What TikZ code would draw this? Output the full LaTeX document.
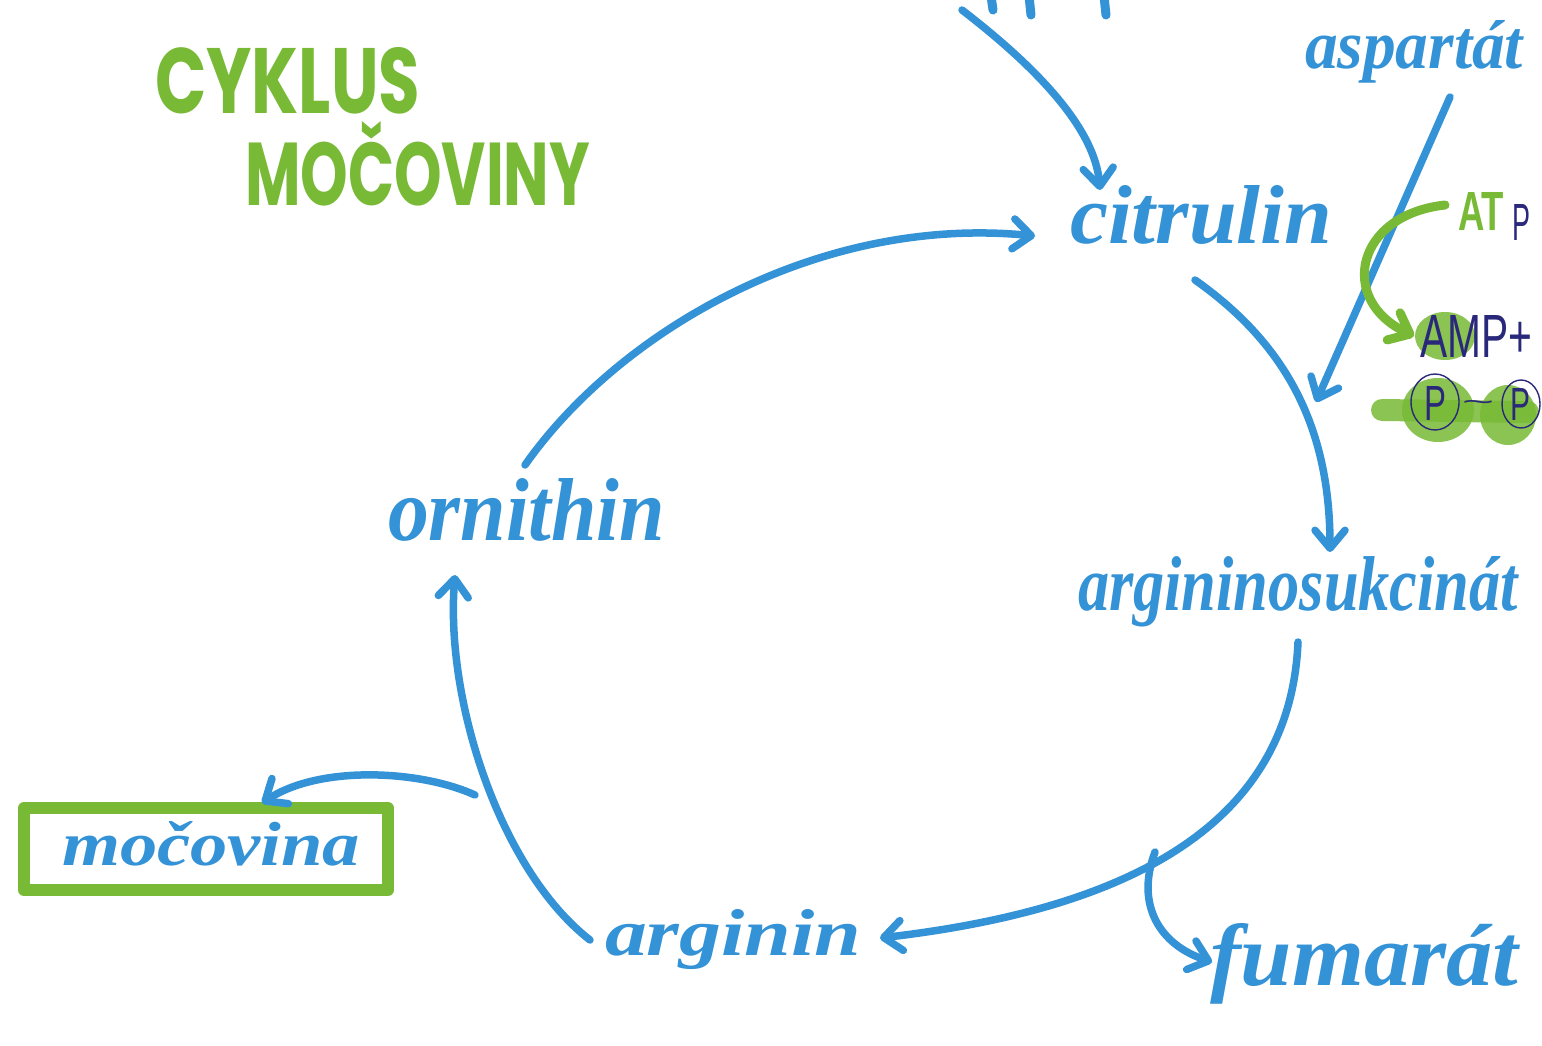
\documentclass[tikz,border=0pt]{standalone}
\usepackage{fontspec}
\usepackage{graphicx}
\newfontfamily\titlefont{Poppins}
\newfontfamily\penfont{Liberation Sans}
\newfontfamily\markerfont{Liberation Serif}
\usetikzlibrary{arrows.meta}

\definecolor{marker}{RGB}{52,146,214}
\definecolor{leaf}{RGB}{120,186,54}
\definecolor{ink}{RGB}{42,40,122}

% fit a word into a box of the given width and height (in pt)
\newcommand{\fitword}[3]{\resizebox{#1pt}{#2pt}{#3}}

\tikzset{
  word/.style={anchor=base west, inner sep=0pt, outer sep=0pt, text=marker,
               font=\markerfont\bfseries\itshape},
  heading/.style={anchor=base west, inner sep=0pt, outer sep=0pt, text=leaf,
               font=\titlefont\bfseries},
  pen/.style={anchor=base west, inner sep=0pt, outer sep=0pt, text=ink,
               font=\penfont},
  flow/.style={draw=marker, line width=7.5pt, line cap=round, line join=round,
               -{Straight Barb[length=18pt, width=30pt, round]}},
  greenflow/.style={draw=leaf, line width=9pt, line cap=round, line join=round,
               -{Straight Barb[length=18pt, width=30pt, round]}},
  smudge/.style={fill=leaf, opacity=0.85},
}

\begin{document}
\begin{tikzpicture}[x=1pt, y=-1pt]
\useasboundingbox (0,0) rectangle (1542,1045);
\clip (0,0) rectangle (1542,1045);
\fill[white] (0,0) rectangle (1542,1045);

% title
\node[heading] (title1) at (155,113) {\fitword{265}{66}{CYKLUS}};
\node[heading] (title2) at (245,205) {\fitword{345}{84}{MOČOVINY}};

% cycle members
\node[word] (asp) at (1305,68) {\fitword{218}{48}{aspartát}};
\node[word] (cit) at (1070,243) {\fitword{262}{58}{citrulin}};
\node[word] (ags) at (1078,610) {\fitword{440}{54}{argininosukcinát}};
\node[word] (fum) at (1210,985) {\fitword{308}{62}{fumarát}};
\node[word] (arg) at (605,955) {\fitword{256}{46}{arginin}};
\node[word] (orn) at (388,540) {\fitword{277}{62}{ornithin}};

% urea in its green frame
\draw[leaf, line width=12pt, line cap=round, line join=round]
  (24,808) rectangle (388,890);
\node[word] (urea) at (62,865) {\fitword{298}{44}{močovina}};
\coordinate (ureatop) at (262,803);

% ATP -> AMP + PP
\node[heading, font=\penfont\bfseries] (atp) at (1458,230) {\fitword{46}{38}{AT}};
\node[pen] (atpP) at (1512,240) {\fitword{18}{36}{P}};
\fill[smudge] (1445,336) ellipse [x radius=30, y radius=24];
\node[pen] (amp) at (1420,357) {\fitword{112}{42}{AMP+}};
\draw[leaf, line width=22pt, line cap=round, opacity=0.85] (1382,410) -- (1528,412);
\fill[smudge] (1438,410) ellipse [x radius=36, y radius=32];
\fill[smudge] (1508,415) ellipse [x radius=28, y radius=30];
\draw[ink, line width=1.4pt] (1435,402) ellipse [x radius=24, y radius=28];
\draw[ink, line width=1.4pt] (1521,404) ellipse [x radius=19, y radius=24];
\node[pen] (pp1) at (1424,420) {\fitword{22}{34}{P}};
\node[pen] (pp2) at (1510,420) {\fitword{20}{32}{P}};
\node[pen] (ppt) at (1462,410) {\fitword{32}{10}{\char`\~}};

% fragments of a word above the edge
\draw[marker, line width=9pt, line cap=round]
  (991,-4) -- (993,10) (1029,-4) -- (1031,15) (1104,-4) -- (1106,15);

% connector end points
\coordinate (topsrc) at (962,10);
\coordinate (citin) at (1100,190);
\coordinate (citleft) at (1035,236);
\coordinate (ornout) at (525,465);
\coordinate (citout) at (1195,280);
\coordinate (agsin) at (1330,552);
\coordinate (aspout) at (1450,97);
\coordinate (aspin) at (1316,402);
\coordinate (atpout) at (1445,205);
\coordinate (ampin) at (1414,336);
\coordinate (agsout) at (1298,642);
\coordinate (argin) at (880,938);
\coordinate (fumfork) at (1155,852);
\coordinate (fumin) at (1212,962);
\coordinate (argout) at (590,940);
\coordinate (ornin) at (455,575);
\coordinate (ureafork) at (475,795);

% reactions
\draw[flow] (topsrc) .. controls (1040,70) and (1095,130) .. (citin);
\draw[flow] (ornout) .. controls (620,330) and (820,215) .. (citleft);
\draw[flow] (citout) .. controls (1280,340) and (1330,420) .. (agsin);
\draw[flow] (aspout) -- (aspin);
\draw[greenflow] (atpout) .. controls (1355,215) and (1338,300) .. (ampin);
\draw[flow] (agsout) .. controls (1290,830) and (1120,910) .. (argin);
\draw[flow] (fumfork) .. controls (1135,905) and (1160,945) .. (fumin);
\draw[flow] (argout) .. controls (500,870) and (445,700) .. (ornin);
\draw[flow] (ureafork) .. controls (420,770) and (320,765) .. (ureatop);
\end{tikzpicture}
\end{document}
